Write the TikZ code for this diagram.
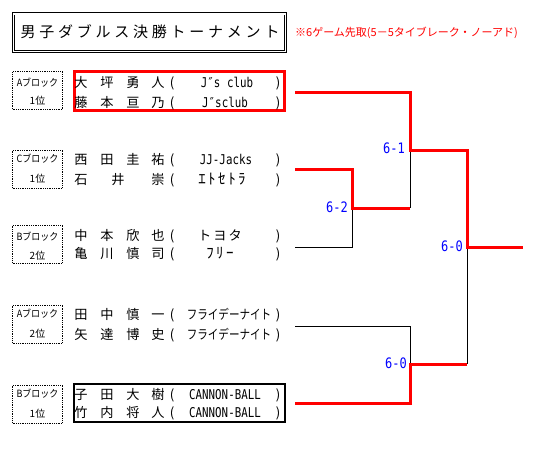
\documentclass[tikz,border=0pt]{standalone}
\usepackage{fontspec}
\usepackage{graphicx}
\newfontfamily\jp{Noto Sans CJK JP}
\newfontfamily\mono{DejaVu Sans Mono}
\newcommand\nrow[8]{%
  \node[nm] (#1a) at (81,#2+5.2) {#3};
  \node[nm] (#1b) at (107,#2+5.2) {#4};
  \node[nm] (#1c) at (133,#2+5.2) {#5};
  \node[nm] (#1d) at (158,#2+5.2) {#6};
  \node[nm] (#1o) at (172,#2+5.2) {(};
  \node[nm] (#1k) at (#7,#2+5.2) {#8};
  \node[nm] (#1x) at (278,#2+5.2) {)};
}
\newcommand\blkbox[6]{%
  \node[blk] (#1) at (37.5,#2) {};
  \node[lab] (#1t) at (37.5,#3+3.8) {\scalebox{0.9}[1]{#5}};
  \node[lab] (#1u) at (37.5,#4+3.8) {#6};
}
\newcommand\lat[1]{{\mono\fontsize{10.8}{12}\selectfont\scalebox{1}[1.25]{#1}}}
\begin{document}
\begin{tikzpicture}[x=1pt,y=-1pt,
  nm/.style={anchor=base, inner sep=0pt, font=\jp\fontsize{13.2}{15}\selectfont},
  lab/.style={anchor=base, inner sep=0pt, font=\jp\fontsize{10}{11}\selectfont},
  blk/.style={draw, densely dotted, line width=0.8pt, minimum width=50pt, minimum height=38pt, inner sep=0pt},
  sc/.style={anchor=base east, inner sep=0pt, text=blue, font=\mono\fontsize{12}{14}\selectfont},
  ttl/.style={anchor=base, inner sep=0pt, font=\jp\fontsize{15}{17}\selectfont},
  hw/.style={font=\jp\fontsize{15}{16}\selectfont},
  win/.style={draw=red, line width=3pt},
  los/.style={draw=black, line width=1pt},
]
\useasboundingbox (0,0) rectangle (559,448);
% title
\node[draw, double, double distance=1.5pt, line width=0.9pt, minimum width=272pt, minimum height=37.5pt, inner sep=0pt] (title) at (149.25,32.5) {};
\foreach \c [count=\i] in {男,子,ダ,ブ,ル,ス,決,勝,ト,ー,ナ,メ,ン,ト}
  \node[ttl] (t\i) at ({28+(\i-1)*18.77},37.2) {\c};
\node[anchor=base west, inner sep=0pt, text=red, font=\jp\fontsize{11}{12}\selectfont] (note) at (295,36.2) {※6ゲーム先取(5－5タイブレーク・ノーアド)};
% block labels
\blkbox{ba1}{90.5}{82.5}{101}{Aブロック}{1位}
\blkbox{bc1}{169}{159}{179}{Cブロック}{1位}
\blkbox{bb2}{244}{237}{256}{Bブロック}{2位}
\blkbox{ba2}{324}{314}{334}{Aブロック}{2位}
\blkbox{bb1}{404}{394}{413.5}{Bブロック}{1位}
% entry boxes
\node[draw=red, line width=3pt, minimum width=210pt, minimum height=39pt, inner sep=0pt] (boxA) at (179.5,91) {};
\node[draw=black, line width=2.3pt, minimum width=211pt, minimum height=38pt, inner sep=0pt] (boxB) at (179.5,403) {};
% names
\nrow{r1}{82.5}{大}{坪}{勇}{人}{227}{\lat{J″s club}}
\nrow{r2}{102.5}{藤}{本}{亘}{乃}{225}{\lat{J″sclub}}
\nrow{r3}{159.5}{西}{田}{圭}{祐}{226}{\lat{JJ-Jacks}}
\node[nm] (r4a) at (81,179.5+5.2) {石};
\node[nm] (r4b) at (118,179.5+5.2) {井};
\node[nm] (r4d) at (158,179.5+5.2) {崇};
\node[nm] (r4o) at (172,179.5+5.2) {(};
\node[nm,hw] (r4k) at (222,179.5+5.2) {ｴ\,ﾄ\,ｾ\,ﾄ\,ﾗ};
\node[nm] (r4x) at (278,179.5+5.2) {)};
\nrow{r5}{235.5}{中}{本}{欣}{也}{220}{ト\hspace{2pt}ヨ\hspace{2pt}タ}
\nrow{r6}{253.5}{亀}{川}{慎}{司}{220}{\fontsize{15}{16}\selectfont ﾌ\,ﾘ\,ｰ}
\nrow{r7}{314}{田}{中}{慎}{一}{229}{\scalebox{0.8}[1]{フライデーナイト}}
\nrow{r8}{334}{矢}{達}{博}{史}{229}{\scalebox{0.8}[1]{フライデーナイト}}
\nrow{r9}{394}{子}{田}{大}{樹}{225}{\lat{CANNON-BALL}}
\nrow{r10}{412.5}{竹}{内}{将}{人}{225}{\lat{CANNON-BALL}}
% bracket coordinates
\coordinate (p1) at (295,92);
\coordinate (p2) at (295,169);
\coordinate (p3) at (295,247);
\coordinate (p4) at (295,326);
\coordinate (p5) at (295,403);
\coordinate (s1) at (352,208);
\coordinate (s1e) at (410,208);
\coordinate (q1) at (410,150);
\coordinate (q1e) at (467,150);
\coordinate (q2) at (410,364);
\coordinate (q2e) at (467,364);
\coordinate (f) at (467,247);
\coordinate (w) at (523,247);
% losers
\draw[los] (p3) -| (s1);
\draw[los] (q1) -- (s1e);
\draw[los] (p4) -| (q2);
\draw[los] (f) -- (q2e);
% winners
\draw[win] (p2) -| (s1) -- (s1e);
\draw[win] (p1) -| (q1) -- (q1e) -- (f) -- (w);
\draw[win] (p5) -| (q2) -- (q2e);
% scores
\node[sc] (sc1) at (405,153.2) {\scalebox{1}[1.2]{6-1}};
\node[sc] (sc2) at (348,212.5) {\scalebox{1}[1.2]{6-2}};
\node[sc] (sc3) at (463,251.5) {\scalebox{1}[1.2]{6-0}};
\node[sc] (sc4) at (407,368.5) {\scalebox{1}[1.2]{6-0}};
\end{tikzpicture}
\end{document}
